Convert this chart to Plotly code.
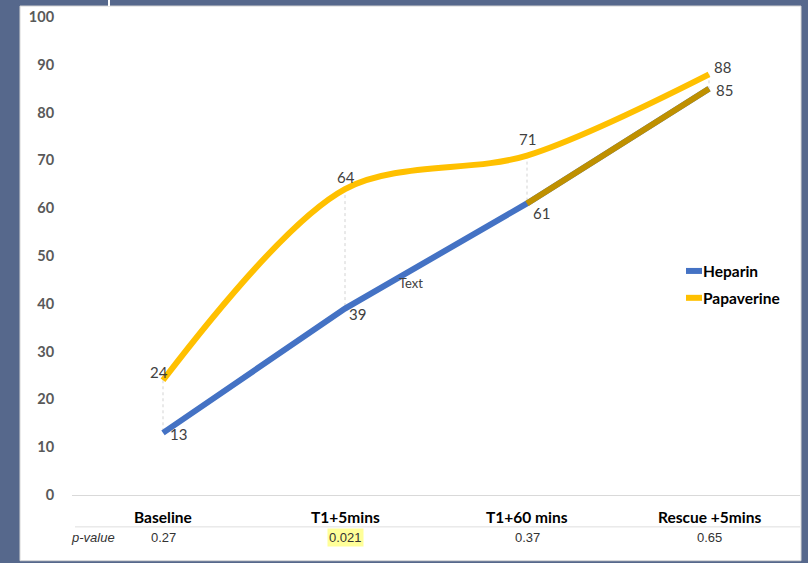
import plotly.graph_objects as go

categories = ["Baseline", "T1+5mins", "T1+60 mins", "Rescue +5mins"]
heparin = [13, 39, 61, 85]
papaverine = [24, 64, 71, 88]
p_values = ["0.27", "0.021", "0.37", "0.65"]
y_ticks = [0, 10, 20, 30, 40, 50, 60, 70, 80, 90, 100]

BG = "#56688c"
BLUE = "#4472c4"
GOLD = "#ffc000"
OLIVE = "#bf9000"
CAL = "Lato, Carlito, Calibri, sans-serif"
ARIAL = "Liberation Sans, Arial, sans-serif"

W, H = 808, 563
L, R, T, B = 72, 8, 15, 68
PW = W - L - R
PH = H - T - B


def px(xp):
    return (xp - L) / PW


def py(yp):
    return (H - B - yp) / PH


xs = list(range(len(categories)))

fig = go.Figure()

# hi-lo drop lines
dx, dy = [], []
for i in xs:
    dx += [i, i, None]
    dy += [papaverine[i], heparin[i], None]
fig.add_trace(go.Scatter(x=dx, y=dy, mode="lines",
                         line=dict(color="#c8c8c8", width=0.8, dash="dot"),
                         showlegend=False, hoverinfo="skip"))

fig.add_trace(go.Scatter(x=xs, y=heparin, mode="lines", name="Heparin",
                         line=dict(color=BLUE, width=6), showlegend=False))
fig.add_trace(go.Scatter(x=xs[2:], y=heparin[2:], mode="lines",
                         line=dict(color=OLIVE, width=6), showlegend=False))
fig.add_trace(go.Scatter(x=xs, y=papaverine, mode="lines", name="Papaverine",
                         line=dict(color=GOLD, width=6, shape="spline", smoothing=0.9),
                         showlegend=False))

ann = []
# heparin labels (right/below)
hep_off = [(15, -1), (12, -5), (14, -10), (15, -1)]
for i, v in enumerate(heparin):
    ann.append(dict(x=xs[i], y=v, text=str(v), showarrow=False,
                    xshift=hep_off[i][0], yshift=hep_off[i][1],
                    font=dict(family=CAL, size=15, color="#404040")))
pap_off = [(-4, 8), (1, 12), (0, 17), (13, 7)]
for i, v in enumerate(papaverine):
    ann.append(dict(x=xs[i], y=v, text=str(v), showarrow=False,
                    xshift=pap_off[i][0], yshift=pap_off[i][1],
                    font=dict(family=CAL, size=15, color="#404040")))

# "Text" annotation
ann.append(dict(x=1.36, y=44.4, text="Text", showarrow=False,
                font=dict(family=CAL, size=13, color="#404040")))

# category labels
for i, c in enumerate(categories):
    ann.append(dict(x=xs[i], y=py(517), yref="paper", yanchor="middle",
                    text="<b>%s</b>" % c, showarrow=False,
                    font=dict(family=CAL, size=15.5, color="#000000")))
# p-value row
ann.append(dict(x=px(93), xref="paper", xanchor="center", y=py(538), yref="paper",
                yanchor="middle", text="<i>p-value</i>",
                showarrow=False, font=dict(family=ARIAL, size=13, color="#333333")))
for i, p in enumerate(p_values):
    ann.append(dict(x=xs[i], y=py(538), yref="paper", yanchor="middle", text=p,
                    showarrow=False,
                    bgcolor="#ffff99" if p == "0.021" else None, borderpad=1,
                    font=dict(family=ARIAL, size=13, color="#333333")))

# manual legend
leg = [("Heparin", BLUE, 270), ("Papaverine", GOLD, 297)]
shapes = [
    dict(type="rect", xref="paper", yref="paper", x0=px(20), x1=px(801), y0=py(561), y1=py(4),
         fillcolor="white", line=dict(color="#d6d6d6", width=1), layer="below"),
    dict(type="rect", xref="paper", yref="paper", x0=px(108), x1=px(110), y0=py(4), y1=py(-2),
         fillcolor="white", line=dict(width=0), layer="below"),
    dict(type="line", xref="paper", yref="paper", x0=px(75), x1=px(800), y0=py(527), y1=py(527),
         line=dict(color="#dedede", width=1)),
]
for name, col, yy in leg:
    shapes.append(dict(type="line", xref="paper", yref="paper", x0=px(686), x1=px(702),
                       y0=py(yy), y1=py(yy), line=dict(color=col, width=6)))
    ann.append(dict(x=px(701), xref="paper", y=py(yy), yref="paper", text="<b>%s</b>" % name,
                    xanchor="left", yanchor="middle", showarrow=False,
                    font=dict(family=CAL, size=15.5, color="#000000")))

fig.update_layout(
    width=W, height=H,
    margin=dict(l=L, r=R, t=T, b=B),
    paper_bgcolor=BG, plot_bgcolor="white",
    showlegend=False,
    annotations=ann, shapes=shapes,
    xaxis=dict(range=[-0.5, 3.5], showgrid=False, zeroline=False, showticklabels=False,
               showline=True, linecolor="#d9d9d9", linewidth=1, fixedrange=True),
    yaxis=dict(range=[0, 100], tickvals=y_ticks, showgrid=False, zeroline=False,
               ticks="outside", ticklen=0, ticklabelstandoff=14,
               tickfont=dict(family=CAL, size=14.5, color="#595959", weight="bold"),
               fixedrange=True),
)

fig.write_html("out.html", config={"displayModeBar": False},
               post_script="document.body.style.margin='0';document.body.style.overflow='hidden';")
